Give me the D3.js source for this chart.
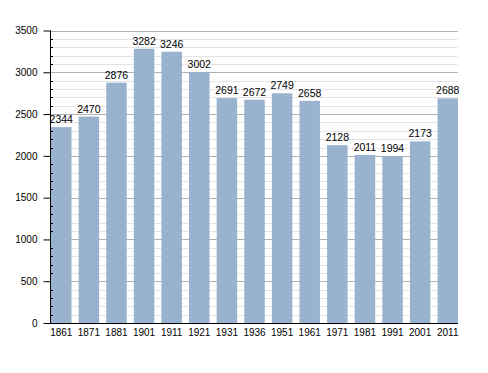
<!DOCTYPE html>
<html>
<head>
<meta charset="utf-8">
<script src="https://cdn.jsdelivr.net/npm/d3@7"></script>
<style>
  body { margin: 0; background: #fff; }
  text { font-family: "Liberation Sans", Arial, sans-serif; }
</style>
</head>
<body>
<svg id="chart" width="488" height="373"></svg>
<script>
// Population by census year
const years = ['1861', '1871', '1881', '1901', '1911', '1921', '1931', '1936', '1951', '1961', '1971', '1981', '1991', '2001', '2011'];
const population = [2344, 2470, 2876, 3282, 3246, 3002, 2691, 2672, 2749, 2658, 2128, 2011, 1994, 2173, 2688];
const majorTicks = [0, 500, 1000, 1500, 2000, 2500, 3000, 3500];
const minorTicks = d3.range(0, 3501, 100);

const svg = d3.select('#chart');

const plotLeft = 50, plotRight = 458, plotTop = 30.5, plotBottom = 323;
const fontFamily = '"Liberation Sans", Arial, sans-serif';

const x = d3.scaleBand()
    .domain(years)
    .range([51, plotRight])
    .paddingInner(0.257)
    .paddingOuter(0);

const y = d3.scaleLinear()
    .domain([0, 3500])
    .range([plotBottom, plotTop]);

// Minor gridlines
svg.append('g')
    .selectAll('line')
    .data(minorTicks.filter(d => d % 500 !== 0))
    .enter()
    .append('line')
    .attr('x1', plotLeft)
    .attr('x2', plotRight)
    .attr('y1', d => Math.round(y(d)) + 0.5)
    .attr('y2', d => Math.round(y(d)) + 0.5)
    .attr('stroke', '#e4e4e4')
    .attr('stroke-width', 1);

// Major gridlines
svg.append('g')
    .selectAll('line')
    .data(majorTicks.filter(d => d > 0))
    .enter()
    .append('line')
    .attr('x1', plotLeft)
    .attr('x2', plotRight)
    .attr('y1', d => Math.round(y(d)) + 0.5)
    .attr('y2', d => Math.round(y(d)) + 0.5)
    .attr('stroke', '#b0b0b0')
    .attr('stroke-width', 1);

// Bars
svg.append('g')
    .selectAll('rect')
    .data(population)
    .enter()
    .append('rect')
    .attr('x', (d, i) => x(years[i]))
    .attr('y', d => y(d))
    .attr('width', x.bandwidth())
    .attr('height', d => y(0) - y(d))
    .attr('fill', '#99b3cf');

// Value labels
svg.append('g')
    .selectAll('text')
    .data(population)
    .enter()
    .append('text')
    .attr('x', (d, i) => x(years[i]) + x.bandwidth() / 2)
    .attr('y', d => y(d) - 4)
    .attr('text-anchor', 'middle')
    .attr('font-size', '10.5px')
    .attr('fill', '#000')
    .text(d => d);

// Y axis with major and minor ticks
const yAxis = svg.append('g')
    .attr('transform', `translate(${plotLeft + 0.5},0)`)
    .call(d3.axisLeft(y)
        .tickValues(majorTicks)
        .tickFormat(d3.format('d'))
        .tickSize(7)
        .tickPadding(6));

yAxis.select('.domain').remove();
yAxis.selectAll('text')
    .attr('font-size', '10px')
    .attr('font-family', fontFamily);

svg.append('g')
    .selectAll('line')
    .data(minorTicks.filter(d => d % 500 !== 0))
    .enter()
    .append('line')
    .attr('x1', plotLeft)
    .attr('x2', plotLeft + 3)
    .attr('y1', d => Math.round(y(d)) + 0.5)
    .attr('y2', d => Math.round(y(d)) + 0.5)
    .attr('stroke', '#000');

// Axis lines
svg.append('line')
    .attr('x1', plotLeft + 0.5).attr('x2', plotLeft + 0.5)
    .attr('y1', plotTop).attr('y2', plotBottom + 1)
    .attr('stroke', '#000');

svg.append('line')
    .attr('x1', plotLeft).attr('x2', plotRight)
    .attr('y1', plotBottom + 0.5).attr('y2', plotBottom + 0.5)
    .attr('stroke', '#000');

// X labels
svg.append('g')
    .selectAll('text')
    .data(years)
    .enter()
    .append('text')
    .attr('x', d => x(d) + x.bandwidth() / 2)
    .attr('y', plotBottom + 13)
    .attr('text-anchor', 'middle')
    .attr('font-size', '10px')
    .text(d => d);
</script>
</body>
</html>
